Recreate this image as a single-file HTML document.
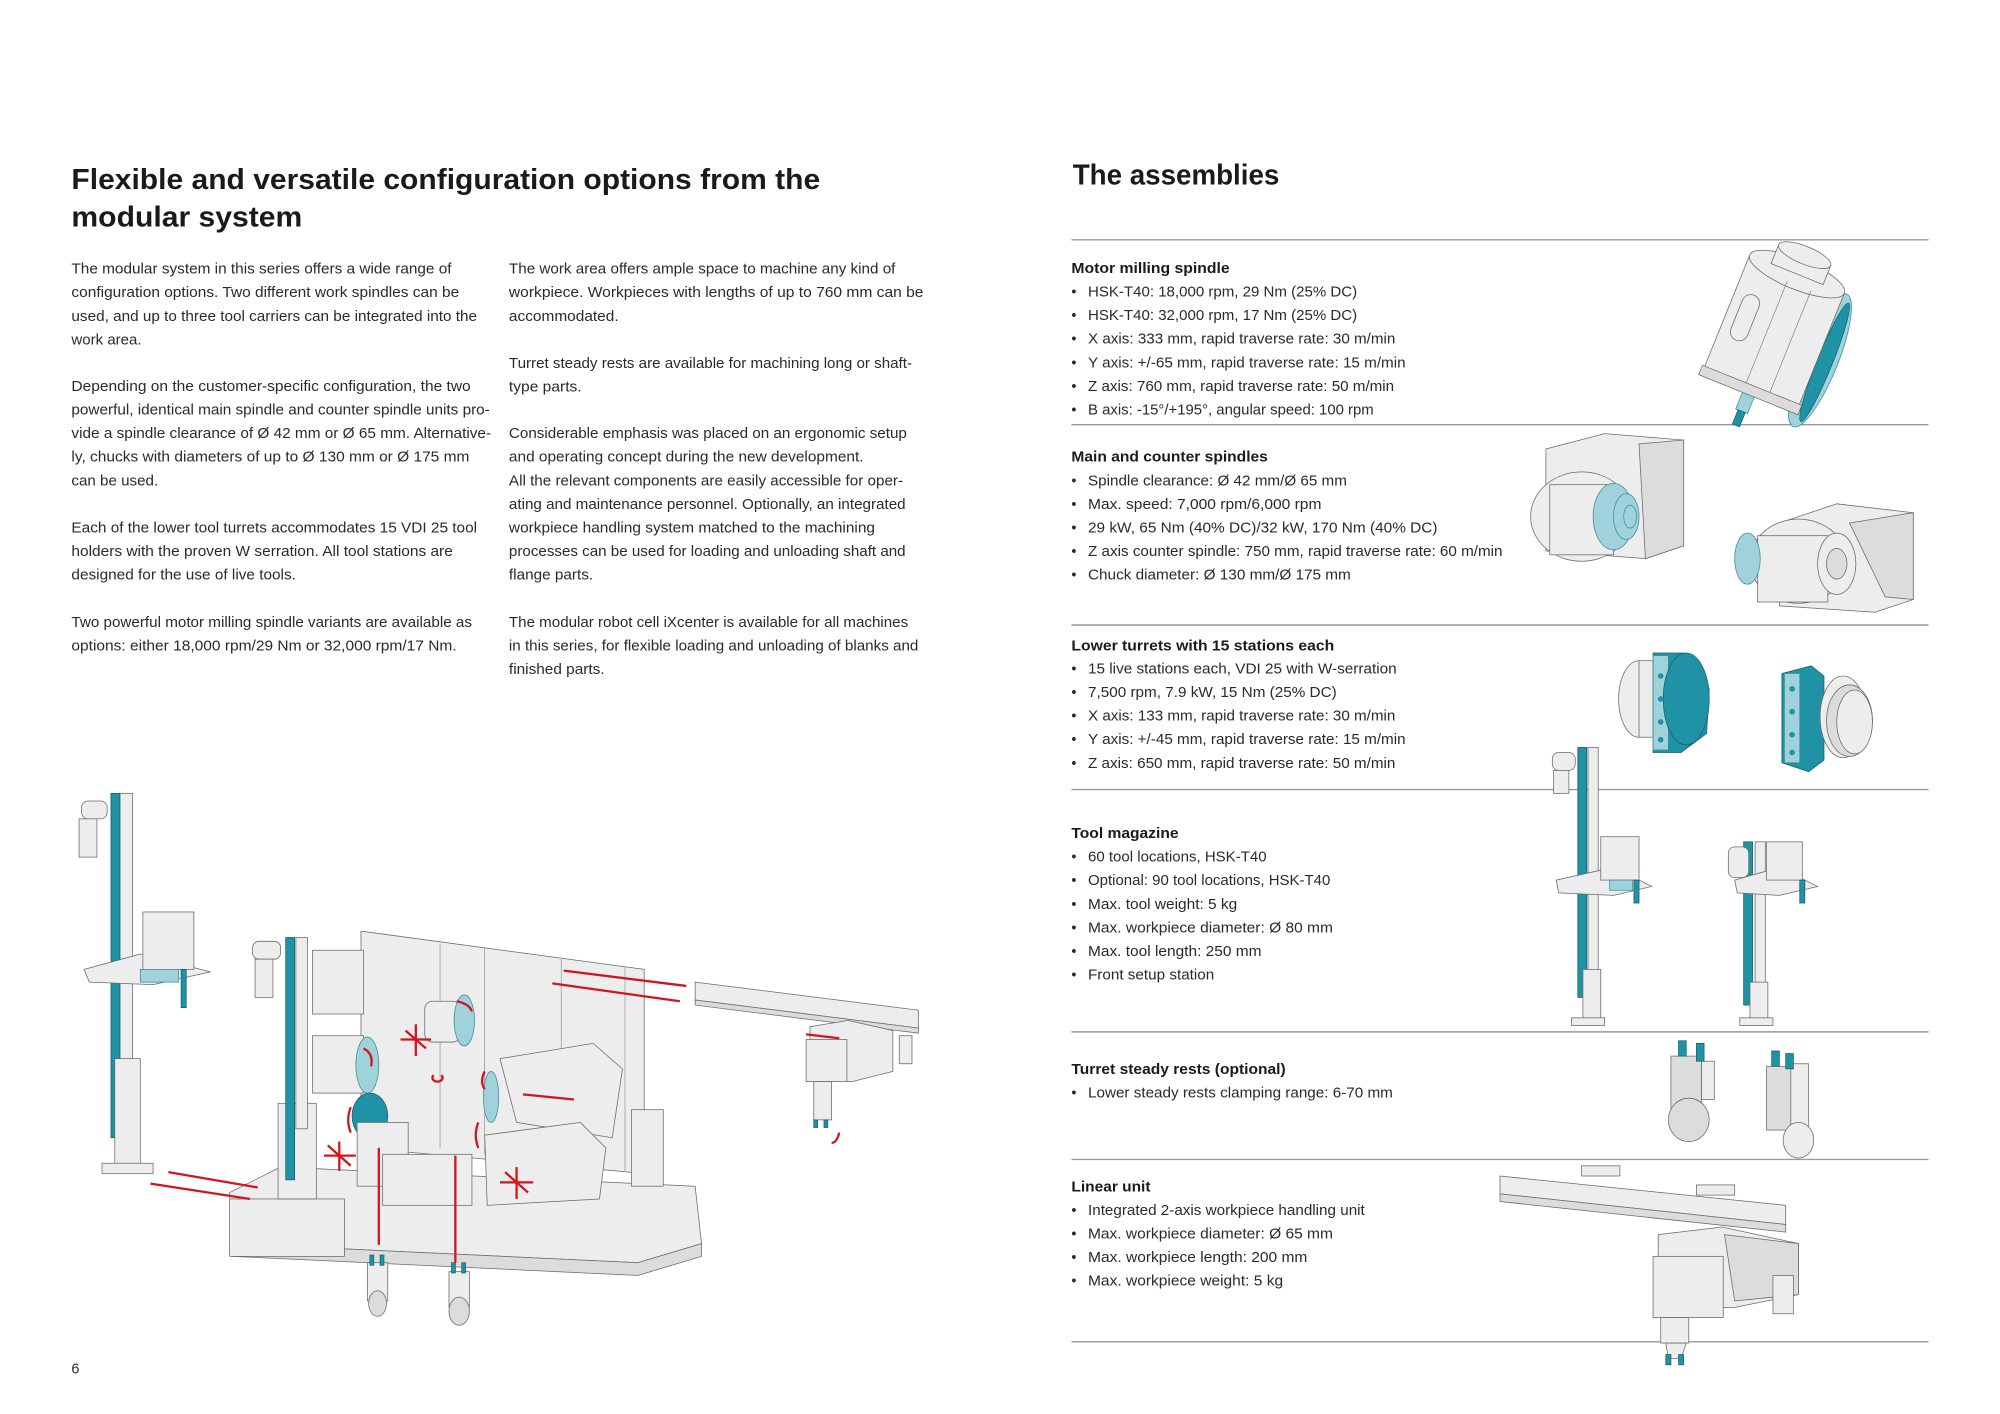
<!DOCTYPE html>
<html><head><meta charset="utf-8">
<style>
html,body{margin:0;padding:0;background:#fff;}
svg{display:block;}
.t{font-family:"Liberation Sans",Arial,sans-serif;fill:#1a1a1a;}
.h{font-weight:bold;font-size:22.5px;}
.b{font-size:11.3px;fill:#2a2a2a;}
.hb{font-size:11.3px;font-weight:bold;}
.g{fill:#ededed;stroke:#6a6a6a;stroke-width:.6;}
.g2{fill:#dcdcdc;stroke:#6a6a6a;stroke-width:.6;}
.tl{fill:#1f93a5;stroke:#16606c;stroke-width:.6;}
.lt{fill:#9fd2db;stroke:#3f8e9a;stroke-width:.6;}
.r{stroke:#d0161e;stroke-width:1.8;fill:none;}
.rule{stroke:#999;stroke-width:1.1;}
</style></head><body>
<svg width="2000" height="1414" viewBox="0 0 1568 1108.6" preserveAspectRatio="none" xmlns="http://www.w3.org/2000/svg">
<rect width="1568" height="1109" fill="#fff"/>
<g transform="translate(0,3)">
<text class="t h" x="56" y="145" textLength="587" lengthAdjust="spacingAndGlyphs">Flexible and versatile configuration options from the</text>
<text class="t h" x="56" y="174.5" textLength="181" lengthAdjust="spacingAndGlyphs">modular system</text>
<text class="t h" x="841" y="141.5" textLength="162" lengthAdjust="spacingAndGlyphs">The assemblies</text>
</g>
<g transform="translate(0,1)">
<g class="t b">
<text x="56" y="213.5" textLength="298" lengthAdjust="spacingAndGlyphs">The modular system in this series offers a wide range of</text>
<text x="56" y="232" textLength="304" lengthAdjust="spacingAndGlyphs">configuration options. Two different work spindles can be</text>
<text x="56" y="250.5" textLength="318" lengthAdjust="spacingAndGlyphs">used, and up to three tool carriers can be integrated into the</text>
<text x="56" y="269" textLength="55" lengthAdjust="spacingAndGlyphs">work area.</text>
<text x="56" y="305.5" textLength="313" lengthAdjust="spacingAndGlyphs">Depending on the customer-specific configuration, the two</text>
<text x="56" y="324" textLength="328" lengthAdjust="spacingAndGlyphs">powerful, identical main spindle and counter spindle units pro-</text>
<text x="56" y="342.5" textLength="329" lengthAdjust="spacingAndGlyphs">vide a spindle clearance of Ø 42 mm or Ø 65 mm. Alternative-</text>
<text x="56" y="361" textLength="312" lengthAdjust="spacingAndGlyphs">ly, chucks with diameters of up to Ø 130 mm or Ø 175 mm</text>
<text x="56" y="379.5" textLength="68" lengthAdjust="spacingAndGlyphs">can be used.</text>
<text x="56" y="416.5" textLength="318" lengthAdjust="spacingAndGlyphs">Each of the lower tool turrets accommodates 15 VDI 25 tool</text>
<text x="56" y="435" textLength="299" lengthAdjust="spacingAndGlyphs">holders with the proven W serration. All tool stations are</text>
<text x="56" y="453.5" textLength="176" lengthAdjust="spacingAndGlyphs">designed for the use of live tools.</text>
<text x="56" y="490.5" textLength="314" lengthAdjust="spacingAndGlyphs">Two powerful motor milling spindle variants are available as</text>
<text x="56" y="509" textLength="302" lengthAdjust="spacingAndGlyphs">options: either 18,000 rpm/29 Nm or 32,000 rpm/17 Nm.</text>
</g>
<g class="t b">
<text x="399" y="213.5" textLength="303" lengthAdjust="spacingAndGlyphs">The work area offers ample space to machine any kind of</text>
<text x="399" y="232" textLength="325" lengthAdjust="spacingAndGlyphs">workpiece. Workpieces with lengths of up to 760 mm can be</text>
<text x="399" y="250.5" textLength="86" lengthAdjust="spacingAndGlyphs">accommodated.</text>
<text x="399" y="287.5" textLength="316" lengthAdjust="spacingAndGlyphs">Turret steady rests are available for machining long or shaft-</text>
<text x="399" y="306" textLength="57" lengthAdjust="spacingAndGlyphs">type parts.</text>
<text x="399" y="342.5" textLength="312" lengthAdjust="spacingAndGlyphs">Considerable emphasis was placed on an ergonomic setup</text>
<text x="399" y="361" textLength="278" lengthAdjust="spacingAndGlyphs">and operating concept during the new development.</text>
<text x="399" y="379.5" textLength="309" lengthAdjust="spacingAndGlyphs">All the relevant components are easily accessible for oper-</text>
<text x="399" y="398" textLength="311" lengthAdjust="spacingAndGlyphs">ating and maintenance personnel. Optionally, an integrated</text>
<text x="399" y="416.5" textLength="287" lengthAdjust="spacingAndGlyphs">workpiece handling system matched to the machining</text>
<text x="399" y="435" textLength="311" lengthAdjust="spacingAndGlyphs">processes can be used for loading and unloading shaft and</text>
<text x="399" y="453.5" textLength="66" lengthAdjust="spacingAndGlyphs">flange parts.</text>
<text x="399" y="490.5" textLength="313" lengthAdjust="spacingAndGlyphs">The modular robot cell iXcenter is available for all machines</text>
<text x="399" y="509" textLength="321" lengthAdjust="spacingAndGlyphs">in this series, for flexible loading and unloading of blanks and</text>
<text x="399" y="527.5" textLength="75" lengthAdjust="spacingAndGlyphs">finished parts.</text>
</g>
<text class="t b" x="56" y="1076">6</text>
<g class="t">
<text class="hb" x="840" y="213" textLength="124" lengthAdjust="spacingAndGlyphs">Motor milling spindle</text>
<text class="hb" x="840" y="361" textLength="154" lengthAdjust="spacingAndGlyphs">Main and counter spindles</text>
<text class="hb" x="840" y="509" textLength="206" lengthAdjust="spacingAndGlyphs">Lower turrets with 15 stations each</text>
<text class="hb" x="840" y="656" textLength="84" lengthAdjust="spacingAndGlyphs">Tool magazine</text>
<text class="hb" x="840" y="841" textLength="168" lengthAdjust="spacingAndGlyphs">Turret steady rests (optional)</text>
<text class="hb" x="840" y="933" textLength="62" lengthAdjust="spacingAndGlyphs">Linear unit</text>
</g>
<g class="t b">
<text x="840" y="231.5">•</text><text x="853" y="231.5" textLength="211" lengthAdjust="spacingAndGlyphs">HSK-T40: 18,000 rpm, 29 Nm (25% DC)</text>
<text x="840" y="250">•</text><text x="853" y="250" textLength="211" lengthAdjust="spacingAndGlyphs">HSK-T40: 32,000 rpm, 17 Nm (25% DC)</text>
<text x="840" y="268.5">•</text><text x="853" y="268.5" textLength="241" lengthAdjust="spacingAndGlyphs">X axis: 333 mm, rapid traverse rate: 30 m/min</text>
<text x="840" y="287">•</text><text x="853" y="287" textLength="249" lengthAdjust="spacingAndGlyphs">Y axis: +/-65 mm, rapid traverse rate: 15 m/min</text>
<text x="840" y="305.5">•</text><text x="853" y="305.5" textLength="240" lengthAdjust="spacingAndGlyphs">Z axis: 760 mm, rapid traverse rate: 50 m/min</text>
<text x="840" y="324">•</text><text x="853" y="324" textLength="224" lengthAdjust="spacingAndGlyphs">B axis: -15°/+195°, angular speed: 100 rpm</text>
<text x="840" y="379.5">•</text><text x="853" y="379.5" textLength="203" lengthAdjust="spacingAndGlyphs">Spindle clearance: Ø 42 mm/Ø 65 mm</text>
<text x="840" y="398">•</text><text x="853" y="398" textLength="183" lengthAdjust="spacingAndGlyphs">Max. speed: 7,000 rpm/6,000 rpm</text>
<text x="840" y="416.5">•</text><text x="853" y="416.5" textLength="274" lengthAdjust="spacingAndGlyphs">29 kW, 65 Nm (40% DC)/32 kW, 170 Nm (40% DC)</text>
<text x="840" y="435">•</text><text x="853" y="435" textLength="325" lengthAdjust="spacingAndGlyphs">Z axis counter spindle: 750 mm, rapid traverse rate: 60 m/min</text>
<text x="840" y="453.5">•</text><text x="853" y="453.5" textLength="206" lengthAdjust="spacingAndGlyphs">Chuck diameter: Ø 130 mm/Ø 175 mm</text>
<text x="840" y="527">•</text><text x="853" y="527" textLength="242" lengthAdjust="spacingAndGlyphs">15 live stations each, VDI 25 with W-serration</text>
<text x="840" y="545.5">•</text><text x="853" y="545.5" textLength="195" lengthAdjust="spacingAndGlyphs">7,500 rpm, 7.9 kW, 15 Nm (25% DC)</text>
<text x="840" y="564">•</text><text x="853" y="564" textLength="241" lengthAdjust="spacingAndGlyphs">X axis: 133 mm, rapid traverse rate: 30 m/min</text>
<text x="840" y="582.5">•</text><text x="853" y="582.5" textLength="249" lengthAdjust="spacingAndGlyphs">Y axis: +/-45 mm, rapid traverse rate: 15 m/min</text>
<text x="840" y="601">•</text><text x="853" y="601" textLength="241" lengthAdjust="spacingAndGlyphs">Z axis: 650 mm, rapid traverse rate: 50 m/min</text>
<text x="840" y="674.5">•</text><text x="853" y="674.5" textLength="140" lengthAdjust="spacingAndGlyphs">60 tool locations, HSK-T40</text>
<text x="840" y="693">•</text><text x="853" y="693" textLength="190" lengthAdjust="spacingAndGlyphs">Optional: 90 tool locations, HSK-T40</text>
<text x="840" y="711.5">•</text><text x="853" y="711.5" textLength="117" lengthAdjust="spacingAndGlyphs">Max. tool weight: 5 kg</text>
<text x="840" y="730">•</text><text x="853" y="730" textLength="192" lengthAdjust="spacingAndGlyphs">Max. workpiece diameter: Ø 80 mm</text>
<text x="840" y="748.5">•</text><text x="853" y="748.5" textLength="136" lengthAdjust="spacingAndGlyphs">Max. tool length: 250 mm</text>
<text x="840" y="767">•</text><text x="853" y="767" textLength="99" lengthAdjust="spacingAndGlyphs">Front setup station</text>
<text x="840" y="859.5">•</text><text x="853" y="859.5" textLength="239" lengthAdjust="spacingAndGlyphs">Lower steady rests clamping range: 6-70 mm</text>
<text x="840" y="951.5">•</text><text x="853" y="951.5" textLength="217" lengthAdjust="spacingAndGlyphs">Integrated 2-axis workpiece handling unit</text>
<text x="840" y="970">•</text><text x="853" y="970" textLength="192" lengthAdjust="spacingAndGlyphs">Max. workpiece diameter: Ø 65 mm</text>
<text x="840" y="988.5">•</text><text x="853" y="988.5" textLength="172" lengthAdjust="spacingAndGlyphs">Max. workpiece length: 200 mm</text>
<text x="840" y="1007">•</text><text x="853" y="1007" textLength="153" lengthAdjust="spacingAndGlyphs">Max. workpiece weight: 5 kg</text>
</g>
</g>

<g class="rule">
<line x1="840" y1="188" x2="1512" y2="188"/>
<line x1="840" y1="333" x2="1512" y2="333"/>
<line x1="840" y1="490" x2="1512" y2="490"/>
<line x1="840" y1="619" x2="1512" y2="619"/>
<line x1="840" y1="809" x2="1512" y2="809"/>
<line x1="840" y1="909" x2="1512" y2="909"/>
<line x1="840" y1="1052" x2="1512" y2="1052"/>
</g>

<g transform="rotate(22 1392 262)">
  <ellipse class="lt" cx="1432" cy="268" rx="14" ry="56"/>
  <ellipse class="tl" cx="1436" cy="268" rx="6" ry="50"/>
  <rect class="g" x="1350" y="212" width="80" height="100"/>
  <ellipse class="g" cx="1390" cy="212" rx="40" ry="12"/>
  <rect class="g" x="1368" y="196" width="44" height="16"/>
  <ellipse class="g" cx="1390" cy="196" rx="22" ry="7"/>
  <rect class="g2" x="1348" y="306" width="84" height="8"/>
  <rect class="g" x="1358" y="240" width="14" height="38" rx="7"/>
  <line x1="1385" y1="220" x2="1385" y2="306" stroke="#777" stroke-width=".5"/>
  <line x1="1405" y1="220" x2="1405" y2="306" stroke="#777" stroke-width=".5"/>
  <rect class="lt" x="1385" y="314" width="10" height="14"/>
  <rect class="tl" x="1387" y="328" width="6" height="12"/>
</g>
<g>
  <polygon class="g" points="1212,352 1258,340 1320,345 1320,428 1290,438 1212,432"/>
  <polygon class="g2" points="1285,348 1320,345 1320,428 1290,438"/>
  <ellipse class="g" cx="1240" cy="405" rx="40" ry="35"/>
  <rect class="g" x="1215" y="380" width="50" height="55"/>
  <ellipse class="lt" cx="1265" cy="405" rx="16" ry="26"/>
  <ellipse class="lt" cx="1275" cy="405" rx="10" ry="18"/>
  <ellipse class="lt" cx="1278" cy="405" rx="5" ry="9"/>
</g>
<g>
  <polygon class="g" points="1395,410 1440,395 1500,402 1500,470 1470,480 1395,475"/>
  <polygon class="g2" points="1450,410 1500,402 1500,470 1478,468"/>
  <ellipse class="g" cx="1410" cy="440" rx="38" ry="33"/>
  <rect class="g" x="1378" y="420" width="55" height="52"/>
  <ellipse class="lt" cx="1370" cy="438" rx="10" ry="20"/>
  <ellipse class="g" cx="1440" cy="442" rx="15" ry="24"/>
  <ellipse class="g2" cx="1440" cy="442" rx="8" ry="12"/>
</g>
<g>
  <ellipse class="g" cx="1285" cy="548" rx="16" ry="30"/>
  <rect class="g" x="1285" y="518" width="12" height="60"/>
  <polygon class="tl" points="1296,512 1320,512 1340,540 1338,575 1318,590 1296,590"/>
  <rect class="lt" x="1296" y="514" width="12" height="74"/>
  <ellipse class="tl" cx="1322" cy="548" rx="18" ry="36" stroke="#0f5560"/>
  <g fill="#1f93a5"><circle cx="1302" cy="530" r="2.2"/><circle cx="1302" cy="548" r="2.2"/><circle cx="1302" cy="566" r="2.2"/><circle cx="1302" cy="580" r="2.2"/></g>
</g>
<g>
  <polygon class="tl" points="1397,528 1420,522 1430,530 1430,596 1418,605 1397,598"/>
  <rect class="lt" x="1399" y="528" width="12" height="70"/>
  <ellipse class="g" cx="1445" cy="562" rx="18" ry="32"/>
  <ellipse class="g2" cx="1450" cy="565" rx="18" ry="28"/>
  <ellipse class="g" cx="1454" cy="566" rx="14" ry="25"/>
  <g fill="#1f93a5"><circle cx="1405" cy="540" r="2.2"/><circle cx="1405" cy="558" r="2.2"/><circle cx="1405" cy="576" r="2.2"/><circle cx="1405" cy="590" r="2.2"/></g>
</g>
<g>
  <rect class="g" x="1245" y="586" width="8" height="214"/>
  <rect class="tl" x="1237" y="586" width="7" height="196"/>
  <rect class="g" x="1217" y="590" width="18" height="14" rx="5"/>
  <rect class="g" x="1218" y="604" width="12" height="18"/>
  <polygon class="g" points="1220,690 1265,680 1295,695 1265,702 1222,700"/>
  <rect class="g" x="1255" y="656" width="30" height="34"/>
  <rect class="lt" x="1262" y="690" width="18" height="8"/>
  <rect class="tl" x="1281" y="690" width="4" height="18"/>
  <rect class="g" x="1241" y="760" width="14" height="40"/>
  <rect class="g" x="1232" y="798" width="26" height="6"/>
</g>
<g>
  <rect class="g" x="1376" y="660" width="8" height="140"/>
  <rect class="tl" x="1367" y="660" width="7" height="128"/>
  <rect class="g" x="1355" y="664" width="16" height="24" rx="5"/>
  <polygon class="g" points="1360,690 1395,680 1425,695 1395,702 1362,700"/>
  <rect class="g" x="1385" y="660" width="28" height="30"/>
  <rect class="tl" x="1411" y="690" width="4" height="18"/>
  <rect class="g" x="1372" y="770" width="14" height="30"/>
  <rect class="g" x="1364" y="798" width="26" height="6"/>
</g>
<g>
  <rect class="g2" x="1310" y="828" width="24" height="50"/>
  <ellipse class="g2" cx="1324" cy="878" rx="16" ry="17"/>
  <rect class="g" x="1334" y="832" width="10" height="30"/>
  <rect class="tl" x="1316" y="816" width="6" height="12"/>
  <rect class="tl" x="1330" y="818" width="6" height="14"/>
  <rect class="g2" x="1385" y="836" width="24" height="50"/>
  <rect class="g" x="1404" y="834" width="14" height="60"/>
  <ellipse class="g" cx="1410" cy="894" rx="12" ry="14"/>
  <rect class="tl" x="1389" y="824" width="6" height="12"/>
  <rect class="tl" x="1400" y="826" width="6" height="12"/>
</g>
<g>
  <polygon class="g" points="1176,922 1400,945 1400,960 1176,936"/>
  <polygon class="g2" points="1176,936 1400,960 1400,966 1176,942"/>
  <rect class="g" x="1240" y="914" width="30" height="8"/>
  <rect class="g" x="1330" y="929" width="30" height="8"/>
  <polygon class="g" points="1300,968 1350,962 1410,975 1410,1015 1360,1025 1300,1025"/>
  <polygon class="g2" points="1352,968 1410,975 1410,1015 1360,1020"/>
  <rect class="g" x="1296" y="985" width="55" height="48"/>
  <rect class="g" x="1302" y="1033" width="22" height="20"/>
  <polygon class="g" points="1306,1053 1322,1053 1318,1065 1308,1065"/>
  <rect class="tl" x="1306" y="1062" width="4" height="8"/>
  <rect class="tl" x="1316" y="1062" width="4" height="8"/>
  <rect class="g" x="1390" y="1000" width="16" height="30"/>
</g>

<g>
  <rect class="g" x="94" y="622" width="10" height="295"/>
  <rect class="tl" x="87" y="622" width="7" height="270"/>
  <rect class="g" x="64" y="628" width="20" height="14" rx="5"/>
  <rect class="g" x="62" y="642" width="14" height="30"/>
  <polygon class="g" points="66,760 110,748 165,762 120,772 70,770"/>
  <rect class="g" x="112" y="715" width="40" height="45"/>
  <rect class="lt" x="110" y="760" width="30" height="10"/>
  <rect class="tl" x="142" y="760" width="4" height="30"/>
  <rect class="g" x="90" y="830" width="20" height="85"/>
  <rect class="g" x="80" y="912" width="40" height="8"/>
  <polygon class="g" points="283,730 505,760 505,920 283,900"/>
  <line x1="345" y1="740" x2="345" y2="900" stroke="#888" stroke-width=".5"/>
  <line x1="380" y1="743" x2="380" y2="905" stroke="#888" stroke-width=".5"/>
  <line x1="440" y1="752" x2="440" y2="910" stroke="#888" stroke-width=".5"/>
  <line x1="490" y1="758" x2="490" y2="918" stroke="#888" stroke-width=".5"/>
  <polygon class="g" points="180,935 220,915 545,930 550,975 500,990 182,975"/>
  <polygon class="g2" points="182,975 500,990 550,975 550,985 500,1000 182,985"/>
  <rect class="g" x="180" y="940" width="90" height="45"/>
  <rect class="g" x="218" y="865" width="30" height="75"/>
  <rect class="g" x="232" y="735" width="9" height="150"/>
  <rect class="tl" x="224" y="735" width="7" height="190"/>
  <rect class="g" x="198" y="738" width="22" height="14" rx="5"/>
  <rect class="g" x="200" y="752" width="14" height="30"/>
  <rect class="g" x="245" y="745" width="40" height="50"/>
  <rect class="g" x="245" y="812" width="40" height="45"/>
  <ellipse class="lt" cx="288" cy="835" rx="9" ry="22"/>
  <ellipse class="tl" cx="290" cy="875" rx="14" ry="18"/>
  <rect class="g" x="280" y="880" width="40" height="50"/>
  <rect class="g" x="333" y="785" width="28" height="32" rx="6"/>
  <ellipse class="lt" cx="364" cy="800" rx="8" ry="20"/>
  <polygon class="g" points="392,830 465,818 488,838 480,892 405,880"/>
  <polygon class="g" points="380,890 455,880 475,900 470,940 382,945"/>
  <ellipse class="lt" cx="385" cy="860" rx="6" ry="20"/>
  <rect class="g" x="300" y="905" width="70" height="40"/>
  <rect class="g" x="495" y="870" width="25" height="60"/>
  <rect class="g" x="288" y="990" width="16" height="30"/>
  <ellipse class="g2" cx="296" cy="1022" rx="7" ry="10"/>
  <rect class="tl" x="290" y="984" width="3" height="8"/>
  <rect class="tl" x="298" y="984" width="3" height="8"/>
  <rect class="g" x="352" y="997" width="16" height="28"/>
  <ellipse class="g2" cx="360" cy="1028" rx="8" ry="11"/>
  <rect class="tl" x="354" y="990" width="3" height="8"/>
  <rect class="tl" x="362" y="990" width="3" height="8"/>
  <polygon class="g" points="545,770 720,792 720,806 545,784"/>
  <polygon class="g2" points="545,784 720,806 720,810 545,788"/>
  <polygon class="g" points="635,805 665,800 700,808 700,840 668,848 635,848"/>
  <rect class="g" x="632" y="815" width="32" height="33"/>
  <rect class="g" x="638" y="848" width="14" height="30"/>
  <rect class="tl" x="638" y="878" width="3" height="6"/>
  <rect class="tl" x="646" y="878" width="3" height="6"/>
  <rect class="g" x="705" y="812" width="10" height="22"/>
</g>
<g class="r">
  <line x1="132" y1="919" x2="202" y2="931"/>
  <line x1="118" y1="928" x2="196" y2="940"/>
  <line x1="442" y1="761" x2="538" y2="773"/>
  <line x1="433" y1="771" x2="533" y2="785"/>
  <line x1="297" y1="900" x2="297" y2="976"/>
  <line x1="357" y1="906" x2="357" y2="990"/>
  <line x1="410" y1="858" x2="450" y2="862"/>
  <line x1="632" y1="811" x2="658" y2="814"/>
  <line x1="266" y1="895" x2="266" y2="918"/><line x1="254" y1="906" x2="279" y2="906"/><line x1="257" y1="898" x2="275" y2="914"/>
  <line x1="405" y1="915" x2="405" y2="940"/><line x1="392" y1="927" x2="418" y2="927"/><line x1="396" y1="919" x2="414" y2="935"/>
  <line x1="326" y1="803" x2="326" y2="828"/><line x1="314" y1="815" x2="338" y2="815"/><line x1="318" y1="808" x2="334" y2="822"/>
  <path d="M285 822 q8 4 6 14"/>
  <path d="M358 785 q10 2 12 8"/>
  <path d="M275 868 q-4 10 0 20"/>
  <path d="M375 880 q-4 10 0 20"/>
  <path d="M380 840 q-4 8 0 14"/>
  <path d="M340 843 a4 3 0 1 0 6 0"/>
  <path d="M658 888 q-2 8 -6 8"/>
</g>
</svg>
</body></html>
